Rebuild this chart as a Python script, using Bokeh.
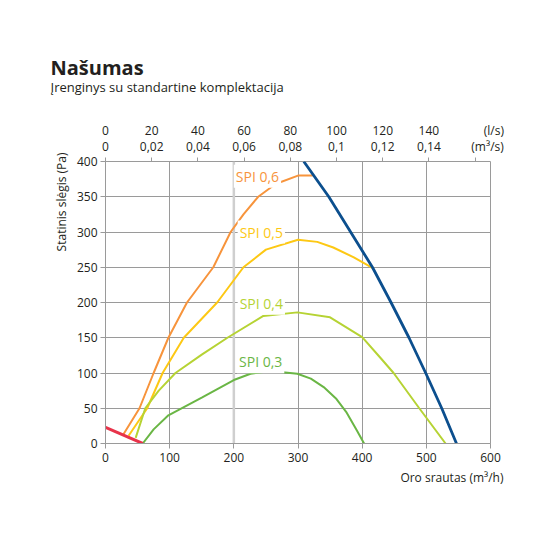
from bokeh.plotting import figure
from bokeh.models import LinearAxis, FixedTicker, Title, Span, Label
from bokeh.embed import file_html
from bokeh.resources import INLINE

# values, flow in m3/h, pressure in Pa
spi06_q = [28, 53, 75, 98, 127, 168, 195, 215, 238, 265, 300, 323]
spi06_p = [13, 50, 100, 150, 200, 250, 300, 325, 350, 368, 380, 380]
spi05_q = [36, 65, 89, 122, 174, 215, 250, 300, 330, 355, 387, 418]
spi05_p = [11, 50, 100, 150, 200, 250, 275, 289, 286, 278, 264, 248]
spi04_q = [47, 62, 83, 109, 150, 190, 246, 299, 350, 400, 428, 449, 489, 530]
spi04_p = [8, 50, 75, 100, 126, 150, 181, 186, 179, 151, 122, 100, 50, 0]
spi03_q = [58, 75, 98, 150, 200, 226, 257, 299, 320, 340, 360, 375, 392, 403]
spi03_p = [0, 20, 40, 65, 90, 99, 103, 99, 92, 80, 63, 45, 18, 0]
max_q = [309, 348, 382, 416, 445, 473, 499, 524, 547]
max_p = [400, 350, 300, 250, 200, 150, 100, 50, 0]
min_q = [0, 58]
min_p = [23, 0]

ls_ticks = [0, 20, 40, 60, 80, 100, 120, 140, 160]
ls_labels = ["0", "20", "40", "60", "80", "100", "120", "140", "(l/s)"]
m3s_labels = ["0", "0,02", "0,04", "0,06", "0,08", "0,1", "0,12", "0,14", "(m³/s)"]

FONT = "Open Sans"
TXT = "#231f20"
GRID = "#9a9a9a"
NB = "\u00a0"

p = figure(width=534, height=534, x_range=(0, 600), y_range=(0, 400),
           output_backend="svg", toolbar_location=None,
           min_border_left=105, min_border_right=44, min_border_bottom=91,
           min_border_top=161)
p.background_fill_color = "white"
p.outline_line_color = GRID
p.xgrid.ticker = FixedTicker(ticks=[100, 300, 400, 500])
p.ygrid.ticker = FixedTicker(ticks=[50, 100, 150, 200, 250, 300, 350])
p.grid.grid_line_color = GRID
p.add_layout(Span(location=200, dimension="height", line_color="#cfcfcf",
                  line_width=2.5, level="underlay"))

def style_axis(ax):
    ax.axis_line_color = GRID
    ax.major_tick_line_color = GRID
    ax.minor_tick_line_color = None
    ax.major_tick_in = 0
    ax.major_tick_out = 5
    ax.major_label_text_font = FONT
    ax.major_label_text_font_size = "12px"
    ax.major_label_text_color = TXT

style_axis(p.xaxis[0])
p.xaxis[0].ticker = FixedTicker(ticks=[0, 100, 200, 300, 400, 500, 600])
p.xaxis[0].major_label_standoff = 4
style_axis(p.yaxis[0])
p.yaxis[0].ticker = FixedTicker(ticks=[0, 50, 100, 150, 200, 250, 300, 350, 400])
p.yaxis[0].major_label_standoff = 3

# top axes: the same flow in l/s and m3/s
q_ticks = [t * 3.6 for t in ls_ticks]
m3s_text = m3s_labels[:-1] + [NB * 8 + m3s_labels[-1]]
ls_text = ls_labels[:-1] + [NB * 12 + ls_labels[-1]]
top_in = LinearAxis(ticker=FixedTicker(ticks=q_ticks),
                    major_label_overrides=dict(zip(q_ticks, m3s_text)))
style_axis(top_in)
top_in.major_tick_out = 4
top_in.major_label_standoff = 3
top_in.axis_line_color = None
p.add_layout(top_in, "above")

top_out = LinearAxis(ticker=FixedTicker(ticks=q_ticks),
                     major_label_overrides=dict(zip(q_ticks, ls_text)))
style_axis(top_out)
top_out.major_tick_out = 0
top_out.major_label_standoff = -4
top_out.axis_line_color = None
p.add_layout(top_out, "above")

p.add_layout(Title(text=" ", text_font_size="10px"), "above")
p.add_layout(Title(text="Įrenginys su standartine komplektacija", text_font=FONT,
                   text_font_size="13px", text_font_style="normal", text_color=TXT,
                   align="left", offset=-55, standoff=0), "above")
p.add_layout(Title(text="Našumas", text_font=FONT, text_font_size="20px",
                   text_font_style="bold", text_color=TXT, align="left", offset=-55,
                   standoff=-10), "above")

p.add_layout(Title(text="Oro srautas (m³/h)", text_font=FONT, text_font_size="12px",
                   text_font_style="normal", text_color=TXT, align="right",
                   offset=-13, standoff=4), "below")
p.add_layout(Title(text="Statinis slėgis (Pa)", text_font=FONT, text_font_size="12px",
                   text_font_style="normal", text_color=TXT, align="right",
                   offset=-9, standoff=8), "left")

p.line(spi06_q, spi06_p, line_color="#f7943c", line_width=2)
p.line(spi05_q, spi05_p, line_color="#fdc814", line_width=2)
p.line(spi04_q, spi04_p, line_color="#b6d334", line_width=2)
p.line(spi03_q, spi03_p, line_color="#6ab645", line_width=2)
p.line(max_q, max_p, line_color="#0c4f8e", line_width=2.8)
p.line(min_q, min_p, line_color="#e8334a", line_width=3)

spi_names = ["SPI 0,6", "SPI 0,5", "SPI 0,4", "SPI 0,3"]
spi_x = [200, 206, 206, 205]
spi_y = [379, 300, 199, 116]
spi_colors = ["#f7943c", "#fdc814", "#b6d334", "#6ab645"]
for name, x, y, c in zip(spi_names, spi_x, spi_y, spi_colors):
    p.add_layout(Label(x=x, y=y, text=name, text_font=FONT, text_font_size="14px",
                       text_color=c, text_baseline="middle", text_align="left",
                       background_fill_color="white", padding=2))

open("out.html", "w").write(file_html(p, INLINE))
